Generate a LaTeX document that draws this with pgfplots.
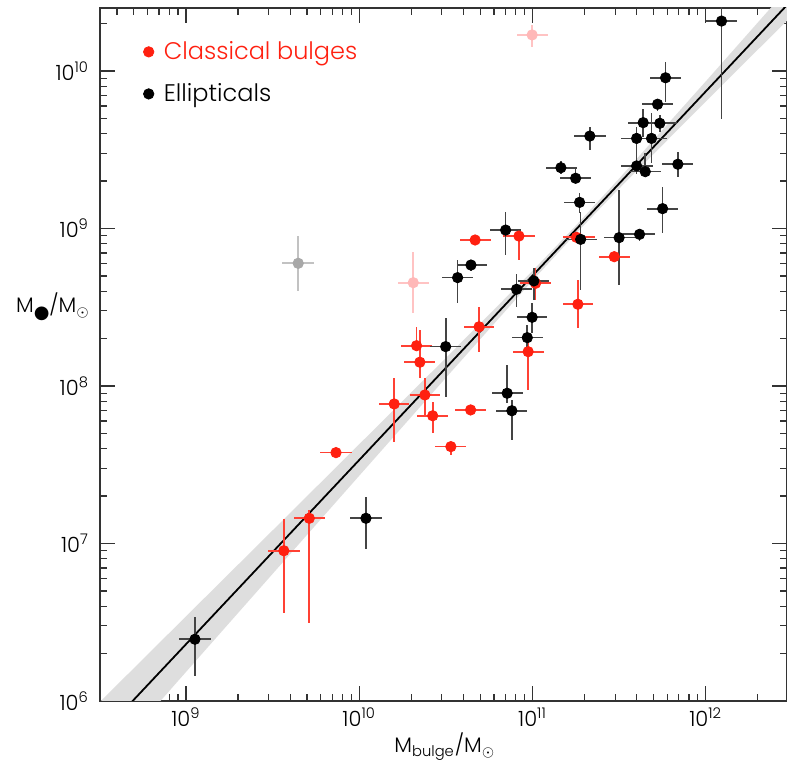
\documentclass[border=0pt]{standalone}
\usepackage{fontspec}
\setmainfont{Poppins Light}
\newfontfamily\dejavu{DejaVu Sans}
\usepackage{pgfplots}
\usepackage{pgfplotstable}
\pgfplotsset{compat=1.18}
\usetikzlibrary{calc}

\definecolor{bulgered}{HTML}{FF2010}
\definecolor{errgray}{HTML}{444444}
\definecolor{bandgray}{HTML}{DEDEDE}
\definecolor{pinkpt}{HTML}{FFB8B8}
\definecolor{graypt}{HTML}{A8A8A8}

% log10(M_bulge) log10(M_BH) and errors in dex: x minus, x plus, y plus, y minus
\pgfplotstableread{
lx ly xm xp yp ym
9.052 6.392 0.090 0.095 0.144 0.233
10.039 7.160 0.095 0.094 0.133 0.197
10.499 8.250 0.088 0.088 0.180 0.317
10.568 8.688 0.090 0.090 0.112 0.163
10.645 8.768 0.083 0.090 0.030 0.035
10.845 8.990 0.090 0.090 0.116 0.159
10.908 8.614 0.090 0.087 0.097 0.110
11.008 8.667 0.090 0.090 0.081 0.120
10.998 8.436 0.088 0.088 0.089 0.102
10.970 8.307 0.090 0.090 0.081 0.078
10.854 7.954 0.090 0.090 0.178 0.060
10.881 7.843 0.089 0.089 0.068 0.186
11.278 8.931 0.092 0.092 0.175 0.322
11.272 9.166 0.090 0.090 0.057 0.070
11.164 9.386 0.088 0.091 0.040 0.040
11.249 9.319 0.090 0.090 0.070 0.030
11.331 9.587 0.092 0.092 0.060 0.088
11.500 8.942 0.089 0.089 0.303 0.300
11.618 8.963 0.095 0.088 0.030 0.040
11.751 9.126 0.090 0.090 0.140 0.156
11.839 9.408 0.090 0.090 0.080 0.079
11.601 9.397 0.092 0.092 0.060 0.050
11.651 9.361 0.090 0.090 0.116 0.030
11.601 9.572 0.092 0.092 0.074 0.117
11.687 9.572 0.088 0.088 0.159 0.159
11.639 9.672 0.089 0.089 0.085 0.093
11.735 9.668 0.092 0.097 0.053 0.053
11.722 9.789 0.088 0.088 0.030 0.040
11.768 9.957 0.090 0.090 0.098 0.152
12.091 10.317 0.091 0.087 0.200 0.622
}\ellipticals

\pgfplotstableread{
lx ly xm xp yp ym
9.565 6.954 0.091 0.091 0.199 0.397
9.712 7.160 0.089 0.089 0.053 0.667
9.866 7.577 0.090 0.090 0.030 0.030
10.202 7.886 0.088 0.088 0.167 0.239
10.331 8.256 0.087 0.087 0.120 0.030
10.350 8.151 0.089 0.089 0.205 0.100
10.379 7.943 0.087 0.087 0.106 0.127
10.424 7.811 0.090 0.090 0.088 0.112
10.529 7.615 0.090 0.090 0.030 0.050
10.643 7.848 0.091 0.091 0.020 0.020
10.669 8.927 0.090 0.090 0.020 0.020
10.692 8.376 0.087 0.087 0.127 0.159
10.922 8.952 0.090 0.090 0.038 0.152
10.975 8.218 0.090 0.090 0.119 0.243
11.018 8.652 0.090 0.090 0.097 0.107
11.254 8.944 0.078 0.105 0.030 0.030
11.262 8.519 0.088 0.088 0.154 0.152
11.472 8.821 0.090 0.090 0.030 0.030
}\bulges

\pgfplotstableread{
lx ly xm xp yp ym
10.312 8.656 0.090 0.090 0.197 0.194
10.998 10.229 0.090 0.093 0.063 0.075
}\pinkpts

\pgfplotstableread{
lx ly xm xp yp ym
9.648 8.779 0.096 0.092 0.173 0.176
}\graypts

\begin{document}
\begin{tikzpicture}
\begin{axis}[
  name=ax,
  scale only axis,
  width=343.5pt, height=346.5pt,
  xmin=8.504, xmax=12.469,
  ymin=6, ymax=10.4,
  axis line style={line width=0.75pt, black!80},
  tick style={line width=0.6pt, black!80},
  tick align=inside,
  major tick length=7.5pt,
  minor tick length=3.5pt,
  xtick={9,10,11,12},
  xticklabels={10\textsuperscript{9},10\textsuperscript{10},10\textsuperscript{11},10\textsuperscript{12}},
  minor xtick={8.602,8.699,8.778,8.845,8.903,8.954,
    9.301,9.477,9.602,9.699,9.778,9.845,9.903,9.954,
    10.301,10.477,10.602,10.699,10.778,10.845,10.903,10.954,
    11.301,11.477,11.602,11.699,11.778,11.845,11.903,11.954,
    12.301},
  ytick={6,7,8,9,10},
  yticklabels={10\textsuperscript{6},10\textsuperscript{7},10\textsuperscript{8},10\textsuperscript{9},10\textsuperscript{10}},
  minor ytick={6.301,6.477,6.602,6.699,6.778,6.845,6.903,6.954,
    7.301,7.477,7.602,7.699,7.778,7.845,7.903,7.954,
    8.301,8.477,8.602,8.699,8.778,8.845,8.903,8.954,
    9.301,9.477,9.602,9.699,9.778,9.845,9.903,9.954,
    10.301},
  tick label style={font=\fontsize{10.5}{12}\selectfont},
  yticklabel style={xshift=-2pt},
  xlabel={M\textsubscript{bulge}/M$_{\odot}$},
  ylabel={M\raisebox{-0.45ex}{\dejavu\small ●}/M$_{\odot}$},
  label style={font=\fontsize{10.5}{12}\selectfont},
  xlabel style={at={(axis description cs:0.502,0)}, anchor=base, yshift=-26pt},
  ylabel style={rotate=-90, at={(axis description cs:0,0.56)}, anchor=base east, xshift=-1.5pt},
  legend style={draw=none, fill=none, at={(axis description cs:0.054,0.964)}, anchor=north west,
    font=\fontsize{12}{14}\selectfont, row sep=6.5pt, column sep=3pt, nodes={inner sep=2pt}},
  legend cell align=left,
  every axis plot/.append style={mark size=2.6pt, mark options={draw=none}},
]
% confidence band of the fit
\addplot[fill=bandgray, draw=none, forget plot] coordinates {
  (8.4,5.881) (9.0,6.537) (9.5,7.083) (10,7.630) (10.5,8.178) (11,8.731)
  (11.24,9.006) (11.5,9.317) (12,9.934) (12.5,10.556)
  (12.5,10.354) (12,9.806) (11.5,9.253) (11.24,8.956) (11,8.669) (10.5,8.052)
  (10,7.430) (9.5,6.807) (9,6.184) (8.4,5.435)};
\addplot[black, line width=0.9pt, forget plot] coordinates {(8.4,5.658) (12.6,10.572)};

% excluded objects
\addplot[only marks, mark=*, color=pinkpt, forget plot,
  error bars/.cd, x dir=both, x explicit, y dir=both, y explicit,
  error mark=none, error bar style={line width=0.85pt, color=pinkpt!85}]
  table[x=lx, y=ly, x error minus=xm, x error plus=xp, y error plus=yp, y error minus=ym]{\pinkpts};
\addplot[only marks, mark=*, color=graypt, forget plot,
  error bars/.cd, x dir=both, x explicit, y dir=both, y explicit,
  error mark=none, error bar style={line width=0.85pt, color=graypt!70}]
  table[x=lx, y=ly, x error minus=xm, x error plus=xp, y error plus=yp, y error minus=ym]{\graypts};

\addplot[only marks, mark=*, color=bulgered,
  error bars/.cd, x dir=both, x explicit, y dir=both, y explicit,
  error mark=none, error bar style={line width=0.85pt, color=bulgered!85}]
  table[x=lx, y=ly, x error minus=xm, x error plus=xp, y error plus=yp, y error minus=ym]{\bulges};
\addlegendentry{\textcolor{bulgered}{Classical bulges}}

\addplot[only marks, mark=*, color=black,
  error bars/.cd, x dir=both, x explicit, y dir=both, y explicit,
  error mark=none, error bar style={line width=0.85pt, color=errgray}]
  table[x=lx, y=ly, x error minus=xm, x error plus=xp, y error plus=yp, y error minus=ym]{\ellipticals};
\addlegendentry{Ellipticals}
\end{axis}
\pgfresetboundingbox
\path[use as bounding box] ($(ax.south west)+(-50pt,-32pt)$) rectangle ($(ax.north east)+(0pt,4pt)$);
\end{tikzpicture}
\end{document}
